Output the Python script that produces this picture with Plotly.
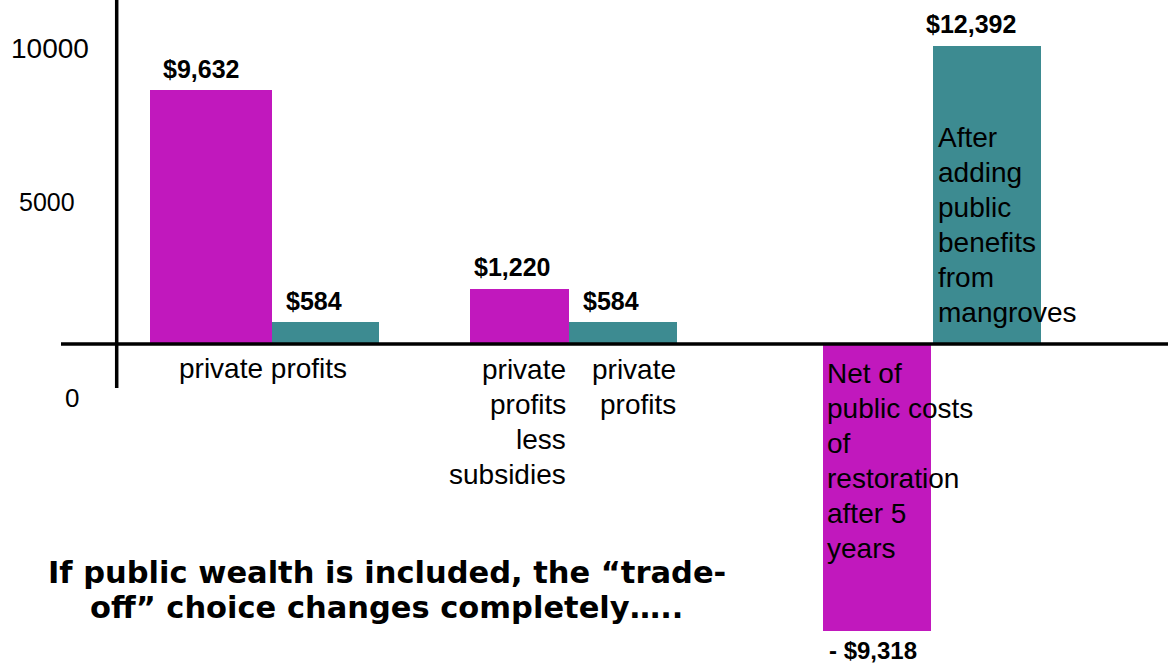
import plotly.graph_objects as go

# ---------------- data ----------------
groups = ["private profits", "private profits less subsidies", "public costs / public benefits"]
# printed values
magenta_labels = ["$9,632", "$1,220", "- $9,318"]
teal_labels = ["$584", "$584", "$12,392"]
# drawn bar heights (the slide's bars are not drawn to scale)
magenta_heights = [9632, 2086, -10884]
teal_heights = [834, 834, 11301]
# category / note text lines
label_g1 = ["private profits"]
label_g2a = ["private", "profits", "less", "subsidies"]
label_g2b = ["private", "profits"]
label_g3a = ["Net of", "public costs", "of", "restoration", "after 5", "years"]
label_g3b = ["After", "adding", "public", "benefits", "from", "mangroves"]
headline = ["If public wealth is included, the \u201ctrade-", "off\u201d choice changes completely\u2026.."]
tick_texts = ["10000", "5000", "0"]

# ---------------- layout (positions / styles) ----------------
W, H = 1168, 666
magenta_x = [2.11, 5.195, 8.77]
magenta_w = [1.22, 0.99, 1.08]
teal_x = [3.255, 6.23, 9.87]
teal_w = [1.07, 1.08, 1.08]
magenta_dx = [-10, -8, -4]
teal_dx = [-12, -12, -16]
MAGENTA = "#C118BD"
TEAL = "#3D8B91"
PX_PER_UNIT = 254 / 9632.0
BASE_PX = 344
y_top = BASE_PX / PX_PER_UNIT
y_bot = -(H - BASE_PX) / PX_PER_UNIT

fig = go.Figure()
fig.add_trace(go.Bar(x=magenta_x, y=magenta_heights, width=magenta_w,
                     marker=dict(color=MAGENTA, line=dict(width=0)), hoverinfo="skip", showlegend=False))
fig.add_trace(go.Bar(x=teal_x, y=teal_heights, width=teal_w,
                     marker=dict(color=TEAL, line=dict(width=0)), hoverinfo="skip", showlegend=False))

ann = []
BOLD = "Liberation Sans"
for xs, hs, labs, dxs in [(magenta_x, magenta_heights, magenta_labels, magenta_dx),
                          (teal_x, teal_heights, teal_labels, teal_dx)]:
    for x, h, t, dx in zip(xs, hs, labs, dxs):
        ann.append(dict(x=x, y=h, xref="x", yref="y", text="<b>%s</b>" % t, showarrow=False,
                        xanchor="center", yanchor="middle", xshift=dx, yshift=21.5 if h > 0 else -19.5,
                        font=dict(family=BOLD, size=25 if h > 0 else 24, color="black"), borderpad=0))

def px(x):
    return x / W

def py(y):
    return 1 - y / H

def add_lines(lines, x, first_baseline, anchor, size=28, family="Liberation Sans", spacing=35, bold=False):
    for i, t in enumerate(lines):
        base = first_baseline + i * spacing
        ann.append(dict(x=px(x), y=py(base - 0.3465 * size), xref="paper", yref="paper",
                        text=("<b>%s</b>" % t) if bold else t, showarrow=False,
                        xanchor=anchor, yanchor="middle", borderpad=0,
                        font=dict(family=family, size=size, color="black")))

add_lines(label_g1, 262.5, 378, "center")
add_lines(label_g2a, 567, 379, "right")
add_lines(label_g2b, 677, 379, "right")
add_lines(label_g3a, 826, 383, "left")
add_lines(label_g3b, 937, 147, "left")
add_lines(headline[:1], 387, 583, "center", size=30.5, family="DejaVu Sans", bold=True)
add_lines(headline[1:], 386, 618, "center", size=30.5, family="DejaVu Sans", bold=True)

# free-standing axis numbers of the slide
for t, cx, cy, s in zip(tick_texts, [49.5, 47, 71.5], [49, 202, 397.5], [28, 25, 26]):
    ann.append(dict(x=px(cx), y=py(cy), xref="paper", yref="paper", text=t, showarrow=False,
                    xanchor="center", yanchor="middle", borderpad=0,
                    font=dict(family="Liberation Sans", size=s, color="black")))

shapes = [
    dict(type="line", xref="paper", yref="y", x0=px(61), x1=1, y0=0, y1=0,
         line=dict(color="black", width=3.5)),
    dict(type="line", xref="paper", yref="paper", x0=px(116.7), x1=px(116.7), y0=1, y1=py(388),
         line=dict(color="black", width=3.5)),
]

fig.update_layout(
    width=W, height=H, margin=dict(l=0, r=0, t=0, b=0),
    paper_bgcolor="white", plot_bgcolor="white",
    barmode="overlay", bargap=0,
    xaxis=dict(range=[0, W / 100.0], visible=False, fixedrange=True),
    yaxis=dict(range=[y_bot, y_top], visible=False, fixedrange=True),
    annotations=ann, shapes=shapes, showlegend=False,
)

fig.write_html("out.html", config={"displayModeBar": False},
               post_script="document.body.style.margin='0';document.body.style.overflow='hidden';")
